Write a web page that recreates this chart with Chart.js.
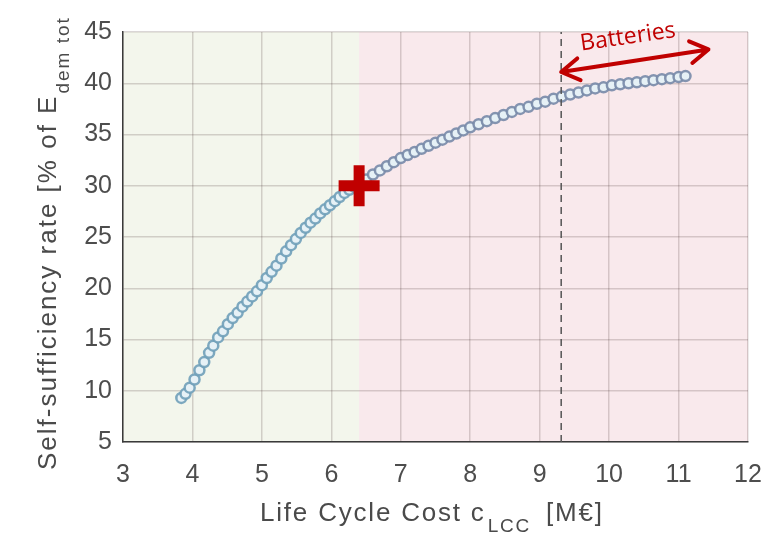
<!DOCTYPE html>
<html>
<head>
<meta charset="utf-8">
<script src="https://cdn.jsdelivr.net/npm/chart.js@4.4.1/dist/chart.umd.min.js"></script>
<style>
html,body{margin:0;padding:0;background:#fff}
</style>
</head>
<body>
<canvas id="graph" width="783" height="534"></canvas>
<script>
// life cycle cost [M€] and self-sufficiency [%]
const costLCC = [3.84,3.90,3.96,4.03,4.10,4.17,4.24,4.30,4.37,4.44,4.51,4.58,4.65,4.72,4.79,4.86,4.93,5.00,
  5.07,5.14,5.21,5.28,5.35,5.42,5.49,5.56,5.63,5.70,5.77,5.84,5.91,5.98,6.05,6.12,6.19,6.26,6.33,6.40,
  6.50,6.60,6.70,6.80,6.90,7.00,7.10,7.20,7.30,7.40,7.50,7.60,7.70,7.80,7.90,8.00,8.12,8.24,8.36,8.48,
  8.60,8.72,8.84,8.96,9.08,9.20,9.32,9.44,9.56,9.68,9.80,9.92,10.04,10.16,10.28,10.40,10.52,10.64,10.76,10.88,11.00,11.10];
const selfSuff = [9.3,9.7,10.3,11.1,12.0,12.8,13.7,14.4,15.2,15.8,16.5,17.1,17.6,18.2,18.7,19.2,19.7,20.3,
  21.0,21.6,22.2,22.9,23.6,24.2,24.8,25.4,25.9,26.4,26.8,27.3,27.7,28.1,28.5,28.9,29.3,29.6,29.9,30.2,
  30.6,31.1,31.5,31.9,32.3,32.7,33.0,33.3,33.6,33.9,34.2,34.5,34.8,35.1,35.4,35.7,36.0,36.3,36.6,36.9,
  37.2,37.5,37.7,38.0,38.2,38.5,38.7,38.9,39.1,39.3,39.5,39.6,39.8,39.9,40.0,40.1,40.2,40.3,40.4,40.5,40.6,40.7];

const xTicks = [3,4,5,6,7,8,9,10,11,12];
const yTicks = [5,10,15,20,25,30,35,40,45];

const markX = [6.4];      // red cross
const markY = [30];
const zoneEdges = [3, 6.4, 12];   // green zone / pink zone
const batteryX = [9.31];          // dashed line
const arrowX = [9.31, 11.43];
const arrowY = [41.1, 43.3];

const red = '#c00000';
const tickFont = {family: "'Liberation Sans', Arial, sans-serif", size: 25};

const zones = {
  id: 'zones',
  beforeDraw(chart) {
    const {ctx, chartArea: a, scales: {x}} = chart;
    const cols = ['#f3f6ec', '#f9e9ec'];
    ctx.save();
    for (let i = 0; i < zoneEdges.length - 1; i++) {
      const x0 = x.getPixelForValue(zoneEdges[i]);
      const x1 = x.getPixelForValue(zoneEdges[i + 1]);
      ctx.fillStyle = cols[i];
      ctx.fillRect(x0, a.top, x1 - x0, a.bottom - a.top);
    }
    ctx.restore();
  }
};

const notes = {
  id: 'notes',
  afterDatasetsDraw(chart) {
    const {ctx, chartArea: a, scales: {x, y}} = chart;
    ctx.save();
    // dashed line
    const bx = x.getPixelForValue(batteryX[0]);
    ctx.strokeStyle = '#555';
    ctx.lineWidth = 1.5;
    ctx.setLineDash([7, 5]);
    ctx.beginPath();
    ctx.moveTo(bx, a.bottom);
    ctx.lineTo(bx, a.top);
    ctx.stroke();
    ctx.setLineDash([]);

    // double arrow
    const x0 = x.getPixelForValue(arrowX[0]), y0 = y.getPixelForValue(arrowY[0]);
    const x1 = x.getPixelForValue(arrowX[1]), y1 = y.getPixelForValue(arrowY[1]);
    const ang = Math.atan2(y1 - y0, x1 - x0);
    ctx.strokeStyle = red;
    ctx.lineWidth = 4;
    ctx.lineCap = 'round';
    ctx.lineJoin = 'round';
    ctx.beginPath();
    ctx.moveTo(x0, y0);
    ctx.lineTo(x1, y1);
    const head = (px, py, dir) => {
      const L = 21, w = 0.55;
      ctx.moveTo(px + L * Math.cos(dir + w), py + L * Math.sin(dir + w));
      ctx.lineTo(px, py);
      ctx.lineTo(px + L * Math.cos(dir - w), py + L * Math.sin(dir - w));
    };
    head(x0, y0, ang);
    head(x1, y1, ang + Math.PI);
    ctx.stroke();

    // label
    ctx.translate((x0 + x1) / 2 - 6, (y0 + y1) / 2 - 17);
    ctx.rotate(ang + 0.01);
    ctx.fillStyle = red;
    ctx.font = "23px 'Open Sans', 'Noto Sans', sans-serif";
    ctx.textAlign = 'center';
    ctx.textBaseline = 'alphabetic';
    ctx.fillText('Batteries', 0, 0);
    ctx.restore();
  }
};

const axisTitles = {
  id: 'axisTitles',
  afterDraw(chart) {
    const {ctx} = chart;
    ctx.save();
    ctx.fillStyle = '#4a4a4a';
    ctx.textAlign = 'left';
    ctx.textBaseline = 'alphabetic';
    const big = "26px 'Liberation Sans', Arial, sans-serif";
    const small = "19px 'Liberation Sans', Arial, sans-serif";
    ctx.letterSpacing = '1.8px';

    // x title
    let px = 260, py = 521;
    ctx.font = big;
    ctx.fillText('Life Cycle Cost c', px, py);
    px += ctx.measureText('Life Cycle Cost c').width + 2;
    ctx.font = small;
    ctx.fillText('LCC', px, py + 11);
    px += ctx.measureText('LCC').width;
    ctx.font = big;
    ctx.fillText(' [M\u20ac]', px + 6, py);

    // y title
    ctx.translate(56, 470);
    ctx.rotate(-Math.PI / 2);
    ctx.font = big;
    ctx.letterSpacing = '2px';
    ctx.fillText('Self-sufficiency rate [% of E', 0, 0);
    const w = ctx.measureText('Self-sufficiency rate [% of E').width;
    ctx.font = small;
    ctx.fillText('dem tot', w + 1, 13);
    ctx.restore();
  }
};

const gridCol = 'rgba(70,50,50,0.2)';

new Chart(document.getElementById('graph'), {
  type: 'scatter',
  data: {
    datasets: [{
      label: 'selected',
      data: markX.map((v, i) => ({x: v, y: markY[i]})),
      pointStyle: 'cross',
      pointRadius: 20.5,
      pointBorderWidth: 11,
      borderColor: red,
      backgroundColor: red
    }, {
      label: 'designs',
      data: costLCC.map((v, i) => ({x: v, y: selfSuff[i]})),
      pointRadius: 5,
      pointBorderWidth: 2.5,
      borderColor: c => (c.raw && c.raw.x < 6.4) ? 'rgba(112,160,185,0.9)' : 'rgba(120,138,168,0.9)',
      backgroundColor: '#e6f1f6'
    }]
  },
  options: {
    responsive: false,
    devicePixelRatio: 1,
    animation: false,
    events: [],
    layout: {padding: {top: 32, right: 35, left: 0, bottom: 0}},
    plugins: {legend: {display: false}, tooltip: {enabled: false}},
    scales: {
      x: {
        type: 'linear', min: 3, max: 12,
        afterBuildTicks: s => { s.ticks = xTicks.map(v => ({value: v})); },
        afterFit: s => { s.height = 92; },
        grid: {color: gridCol, lineWidth: 1.5, drawTicks: false},
        border: {color: '#3a3a3a', width: 1.5},
        ticks: {font: tickFont, color: '#4d4d4d', padding: 18, maxRotation: 0}
      },
      y: {
        type: 'linear', min: 5, max: 45,
        afterBuildTicks: s => { s.ticks = yTicks.map(v => ({value: v})); },
        afterFit: s => { s.width = 123; },
        grid: {color: gridCol, lineWidth: 1.5, drawTicks: false},
        border: {color: '#3a3a3a', width: 1.5},
        ticks: {font: tickFont, color: '#4d4d4d', padding: 11}
      }
    }
  },
  plugins: [zones, notes, axisTitles]
});
</script>
</body>
</html>
